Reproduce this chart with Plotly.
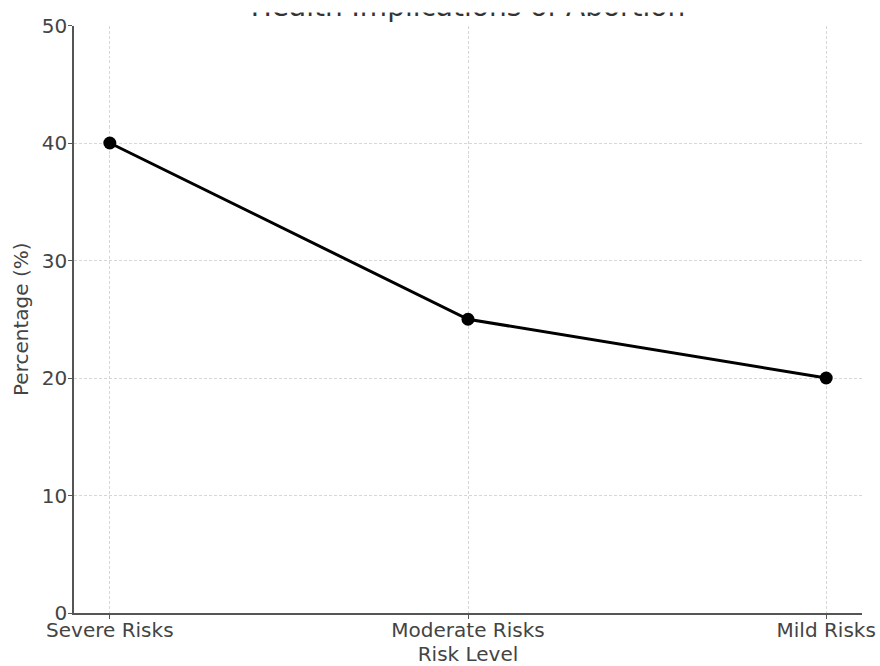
import plotly.graph_objects as go

# Risk categories and the share of cases in each
risk_levels = ["Severe Risks", "Moderate Risks", "Mild Risks"]
percentages = [40, 25, 20]
y_ticks = [0, 10, 20, 30, 40, 50]
title_text = "Health Implications of Abortion"

font_family = "DejaVu Sans"
tick_color = "#444444"
spine_color = "#555555"
grid_color = "#d6d6d6"

H = 666
T, B = 0, 53
plot_h = H - T - B  # pixel height of the area between margins


def frac(px_from_top):
    """Convert a pixel row (from the top of the figure) to a domain fraction."""
    return (plot_h - (px_from_top - T)) / plot_h


fig = go.Figure()

fig.add_trace(
    go.Scatter(
        x=list(range(len(risk_levels))),
        y=percentages,
        mode="lines+markers",
        line=dict(color="black", width=3),
        marker=dict(color="black", size=13),
        hoverinfo="skip",
    )
)

# Title: text in a strip above the plot whose y axis runs in pixels from the top
fig.add_trace(
    go.Scatter(
        x=[0.5],
        y=[8.5],
        mode="text",
        text=[title_text],
        textposition="middle center",
        textfont=dict(family=font_family, size=28, color="#333333"),
        cliponaxis=False,
        hoverinfo="skip",
        xaxis="x2",
        yaxis="y2",
    )
)

axis_common = dict(
    showline=True,
    linecolor=spine_color,
    linewidth=1.5,
    ticks="outside",
    ticklen=4,
    tickcolor=spine_color,
    showgrid=True,
    gridcolor=grid_color,
    griddash="3px,2px",
    gridwidth=1,
    zeroline=False,
    automargin=False,
    tickfont=dict(size=20, color=tick_color),
)

fig.update_layout(
    width=880,
    height=H,
    margin=dict(l=74, r=18, t=T, b=B),
    paper_bgcolor="white",
    plot_bgcolor="rgba(0,0,0,0)",
    showlegend=False,
    font=dict(family=font_family, size=20, color=tick_color),
    xaxis=dict(
        range=[-0.1, 2.1],
        tickmode="array",
        tickvals=list(range(len(risk_levels))),
        ticktext=risk_levels,
        ticklabelstandoff=-6,
        title=dict(text="Risk Level", standoff=7, font=dict(size=20, color=tick_color)),
        **axis_common,
    ),
    yaxis=dict(
        domain=[0, frac(25.5)],
        range=[0, 50],
        tickmode="array",
        tickvals=y_ticks,
        ticklabelstandoff=-3,
        title=dict(text="Percentage (%)", standoff=8, font=dict(size=20, color=tick_color)),
        **axis_common,
    ),
    xaxis2=dict(domain=[0, 1], range=[0, 1], visible=False, anchor="y2",
                fixedrange=True, automargin=False),
    yaxis2=dict(domain=[frac(40), 1], range=[40, 0], visible=False, anchor="x2",
                fixedrange=True, automargin=False),
    # the page is cut just above the title, so only its lower edge shows
    shapes=[
        dict(
            type="rect",
            xref="paper",
            yref="paper",
            x0=0.1,
            x1=0.9,
            y0=frac(12.5),
            y1=1.0,
            fillcolor="white",
            line=dict(width=0),
            layer="above",
        )
    ],
)

fig.write_html("out.html")
